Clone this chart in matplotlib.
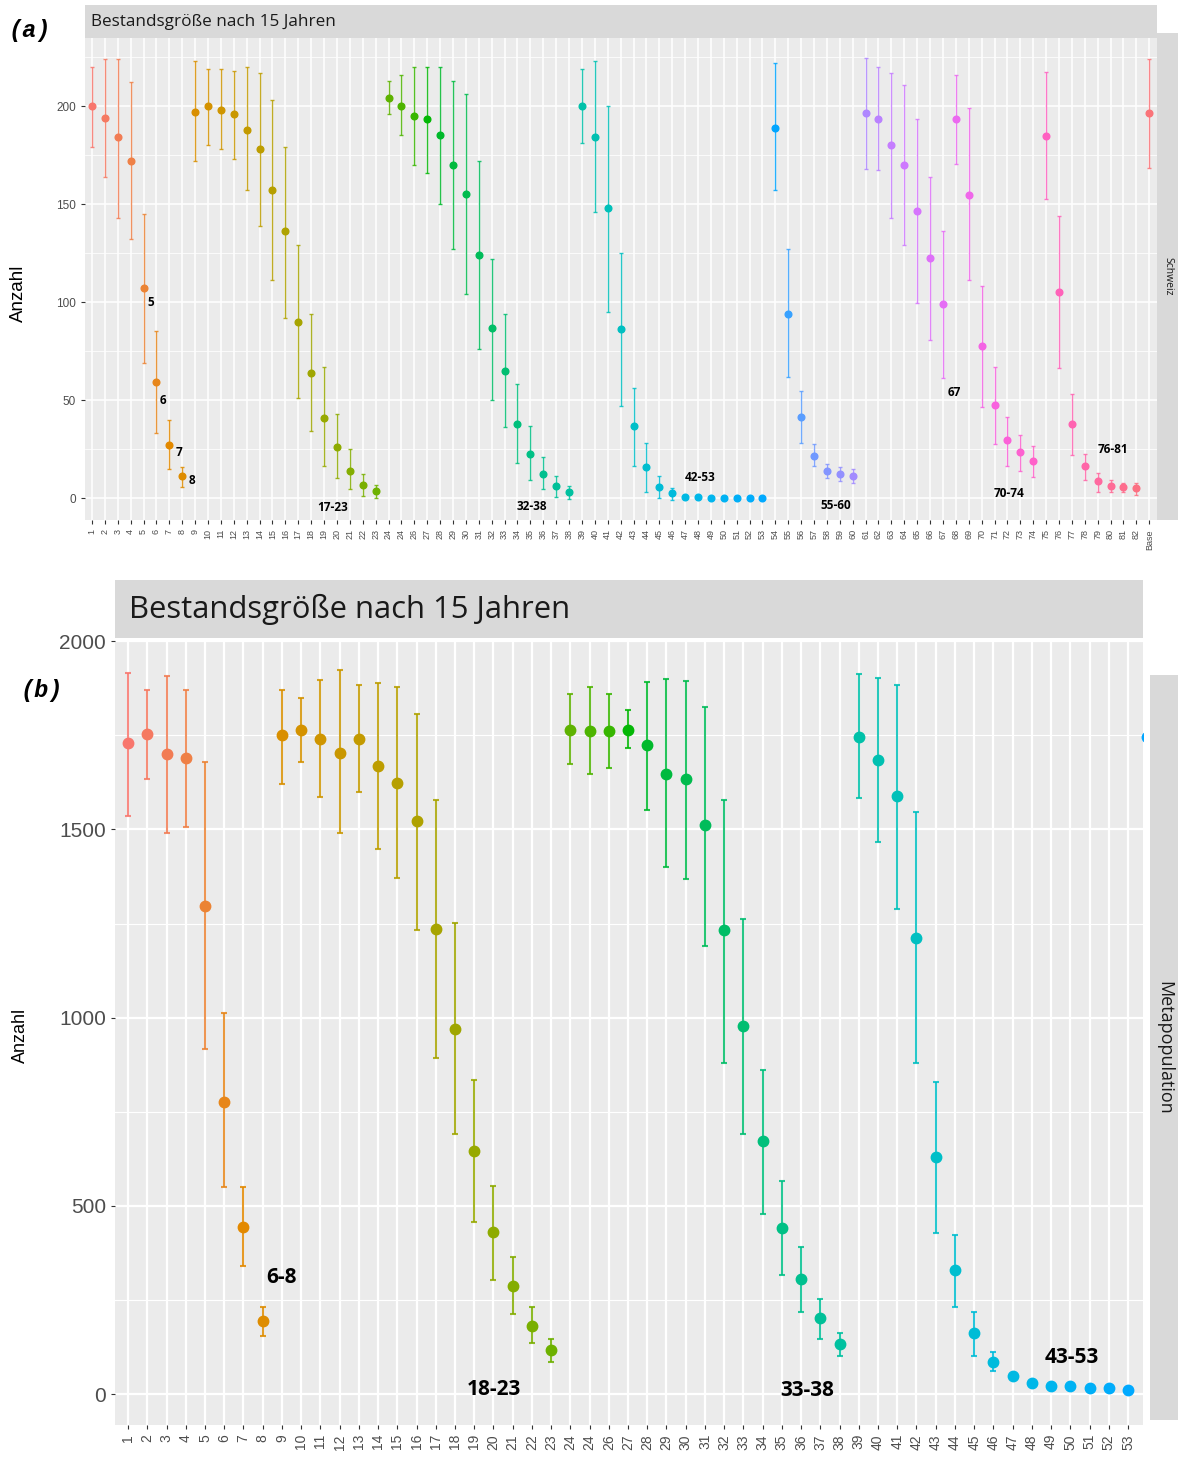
import matplotlib
matplotlib.use("Agg")
import matplotlib.pyplot as plt
import numpy as np

W, H = 1178, 1466

# ---- panel (a): Schweiz ----
a_labels = [str(i) for i in range(1, 25)] + ["24"] + [str(i) for i in range(26, 83)] + ["Base"]
a_mean = [200, 194, 184, 172, 107, 59, 27, 11,
          197, 200, 198, 196, 188, 178, 157, 136,
          90, 64, 41, 26, 14, 6.5, 3.5,
          204, 200, 195, 193.5, 185, 170, 155, 124, 86.5, 65, 37.6, 22.7, 12.5, 6, 3,
          200, 184, 148, 86, 37, 15.6, 5.5, 2.4,
          0.5, 0.5, 0.1, 0.1, 0.1, 0.1, 0.1,
          189, 94, 41.4, 21.6, 13.8, 12.5, 11.4,
          196.4, 193.3, 180, 170, 146.4, 122.6, 99,
          193.3, 154.8, 77.6, 47.4, 29.4, 23.4, 18.7,
          184.7, 105, 37.6, 16.3, 8.5, 6, 5.5, 4.9,
          196.4]
a_lo = [179, 164, 143, 132, 69, 33, 15, 5.5,
        172, 180, 178, 173, 157, 139, 111, 92,
        51, 34, 16.5, 10, 4.5, 1, 0,
        196, 185, 170, 166, 150, 127, 104, 76, 50, 36.5, 18, 9, 4.7, 0.5, -0.7,
        181, 146, 95, 47, 16.5, 3, 0, -1,
        0.5, 0.5, 0.1, 0.1, 0.1, 0.1, 0.1,
        157, 62, 28, 16.3, 10.2, 8.7, 7.8,
        167.7, 167.5, 142.8, 129, 99.5, 80.5, 61.4,
        170.4, 111, 46.5, 27.4, 16.5, 13.6, 10.9,
        152.6, 66.3, 22.2, 9.1, 3.3, 3.3, 2.9, 1.5,
        168.4]
a_hi = [220, 224, 224, 212, 145, 85, 40, 16,
        223, 219, 219, 218, 220, 217, 203, 179,
        129, 94, 67, 43, 25, 12.5, 6.5,
        213, 216, 220, 220, 220, 213, 206, 172, 122, 94, 58, 36.7, 21, 11.4, 6,
        219, 223, 200, 125, 56, 28, 11, 5,
        0.5, 0.5, 0.1, 0.1, 0.1, 0.1, 0.1,
        222, 127, 54.7, 27.4, 17.4, 16, 14.7,
        224.5, 219.8, 216.7, 210.7, 193.3, 163.9, 136.2,
        216, 199, 108, 66.8, 41.4, 32.3, 26.3,
        217.3, 144, 52.9, 22.7, 12.9, 9.1, 7.8, 7.8,
        224]
a_notes = ["5", "6", "7", "8", "17-23", "32-38", "42-53", "55-60", "67", "70-74", "76-81"]
a_note_x = [5.55, 6.5, 7.75, 8.75, 19.7, 35.1, 48.2, 58.7, 67.9, 72.1, 80.2]
a_note_y = [100, 50, 23, 9, -4.8, -4.5, 10.5, -3.6, 54, 2.4, 25]

# ---- panel (b): Metapopulation ----
b_labels = [str(i) for i in range(1, 25)] + ["24"] + [str(i) for i in range(26, 55)]
b_mean = [1730, 1754, 1700, 1689, 1297, 777, 443, 193,
          1750, 1765, 1741, 1704, 1741, 1669, 1622, 1522,
          1235, 971, 645, 431, 288, 182, 117,
          1765, 1760, 1760, 1765, 1725, 1648, 1633, 1511, 1232, 977, 672, 442, 305, 203, 132,
          1745, 1683, 1589, 1211, 631, 331, 162, 85,
          47, 30, 21, 21, 15, 15, 11,
          1745]
b_lo = [1535, 1633, 1490, 1505, 917, 551, 341, 155,
        1621, 1678, 1586, 1490, 1598, 1449, 1372, 1232,
        894, 690, 458, 303, 212, 137, 86,
        1674, 1646, 1662, 1715, 1551, 1399, 1369, 1190, 880, 690, 478, 316, 219, 147, 102,
        1583, 1466, 1288, 879, 429, 232, 102, 61,
        47, 30, 21, 21, 15, 15, 11,
        1580]
b_hi = [1916, 1871, 1907, 1871, 1680, 1012, 549, 232,
        1871, 1848, 1898, 1923, 1883, 1888, 1877, 1807,
        1577, 1252, 835, 554, 364, 232, 147,
        1859, 1877, 1859, 1816, 1892, 1900, 1894, 1825, 1577, 1261, 860, 565, 392, 253, 162,
        1914, 1903, 1883, 1545, 830, 422, 217, 112,
        47, 30, 21, 21, 15, 15, 11,
        1910]
b_notes = ["6-8", "18-23", "33-38", "43-53"]
b_note_x = [9.0, 20.05, 36.3, 50.1]
b_note_y = [311, 12, 10, 96]


def hcl(h, c=100, l=65):
    # polar LUV -> sRGB, like R's hcl()
    xn, yn, zn = 95.047, 100.0, 108.883
    un = 4 * xn / (xn + 15 * yn + 3 * zn)
    vn = 9 * yn / (xn + 15 * yn + 3 * zn)
    u = c * np.cos(np.radians(h))
    v = c * np.sin(np.radians(h))
    y = yn * ((l + 16) / 116) ** 3
    up = u / (13 * l) + un
    vp = v / (13 * l) + vn
    x = 9 * y * up / (4 * vp)
    z = -x / 3 - 5 * y + 3 * y / vp
    xyz = np.array([x, y, z]) / 100
    m = np.array([[3.2404542, -1.5371385, -0.4985314],
                  [-0.9692660, 1.8760108, 0.0415560],
                  [0.0556434, -0.2040259, 1.0572252]])
    rgb = m @ xyz
    rgb = np.where(rgb <= 0.0031308, 12.92 * rgb, 1.055 * np.abs(rgb) ** (1 / 2.4) - 0.055)
    return tuple(np.clip(rgb, 0, 1))


n_col = len(a_mean)
palette = [hcl(15 + 360 * i / n_col) for i in range(n_col)]


def box(x0, y0, x1, y1):
    return [x0 / W, 1 - y1 / H, (x1 - x0) / W, (y1 - y0) / H]


def strip(fig, rect, text, size, rot=0, x=0.5, ha="center"):
    s = fig.add_axes(box(*rect))
    s.set_facecolor("#D9D9D9")
    s.set_xticks([])
    s.set_yticks([])
    for sp in s.spines.values():
        sp.set_visible(False)
    s.text(x, 0.5, text, transform=s.transAxes, rotation=rot, ha=ha, va="center",
           fontsize=size, color="#1A1A1A", family=["Open Sans", "DejaVu Sans"])
    return s


def panel(fig, rect, mean, lo, hi, labels, xlim, ylim, yticks, yminor,
          ms, elw, cap, ytick_size, xtick_size, grid_lw):
    ax = fig.add_axes(box(*rect))
    ax.set_facecolor("#EBEBEB")
    x = np.arange(1, len(mean) + 1)
    for i in range(len(mean)):
        c = palette[i]
        if hi[i] > lo[i]:
            ax.errorbar(x[i], mean[i], yerr=[[mean[i] - lo[i]], [hi[i] - mean[i]]],
                        fmt="none", ecolor=c, elinewidth=elw, capsize=cap,
                        capthick=elw, alpha=0.85, zorder=3)
        ax.plot(x[i], mean[i], "o", color=c, markersize=ms, zorder=4)
    ax.set_xticks(x)
    ax.set_xticklabels(labels, rotation=90, fontsize=xtick_size, color="#4D4D4D",
                       family="Liberation Sans")
    ax.set_yticks(yticks)
    ax.set_yticklabels([str(t) for t in yticks], fontsize=ytick_size, color="#4D4D4D",
                       family="Liberation Sans")
    ax.set_yticks(yminor, minor=True)
    ax.set_xlim(*xlim)
    ax.set_ylim(*ylim)
    ax.tick_params(which="minor", length=0)
    ax.tick_params(which="major", color="#333333", length=3)
    ax.grid(which="major", color="white", lw=grid_lw)
    ax.grid(which="minor", axis="y", color="white", lw=grid_lw * 0.5)
    ax.set_axisbelow(True)
    for sp in ax.spines.values():
        sp.set_visible(False)
    return ax


fig = plt.figure(figsize=(W / 100, H / 100), dpi=100)

# (a)
ax_a = panel(fig, (85, 38, 1157, 520), a_mean, a_lo, a_hi, a_labels,
             (0.46, len(a_mean) + 0.6), (-11.2, 234.7),
             [0, 50, 100, 150, 200], [25, 75, 125, 175, 225],
             ms=4.8, elw=1.0, cap=1.5, ytick_size=8.5, xtick_size=6.5, grid_lw=1.1)
for t, xx, yy in zip(a_notes, a_note_x, a_note_y):
    ax_a.text(xx, yy, t, ha="center", va="center", fontsize=8.5, weight="bold",
              family=["Open Sans", "DejaVu Sans"], zorder=5)
strip(fig, (85, 5, 1157, 38), "Bestandsgröße nach 15 Jahren", 12.3, x=0.006, ha="left")
strip(fig, (1157, 33, 1178, 520), "Schweiz", 7.5, rot=-90)
fig.text(18 / W, 1 - 293 / H, "Anzahl", rotation=90, ha="center", va="center",
         fontsize=13.5, family="Liberation Sans")
fig.text(8 / W, 1 - 30 / H, "(a)", ha="left", va="center", fontsize=17, weight="bold",
         style="italic", family="Liberation Mono")

# (b)
ax_b = panel(fig, (115, 640, 1143, 1425), b_mean, b_lo, b_hi, b_labels,
             (0.32, 53.78), (-82, 2003),
             [0, 500, 1000, 1500, 2000], [250, 750, 1250, 1750],
             ms=7.5, elw=1.5, cap=2.5, ytick_size=15, xtick_size=10, grid_lw=1.6)
for t, xx, yy in zip(b_notes, b_note_x, b_note_y):
    ax_b.text(xx, yy, t, ha="center", va="center", fontsize=15, weight="bold",
              family=["Open Sans", "DejaVu Sans"], zorder=5)
strip(fig, (115, 580, 1143, 638), "Bestandsgröße nach 15 Jahren", 22.3, x=0.014, ha="left")
strip(fig, (1150, 675, 1178, 1420), "Metapopulation", 13, rot=-90)
fig.text(20 / W, 1 - 1035 / H, "Anzahl", rotation=90, ha="center", va="center",
         fontsize=13, family="Liberation Sans")
fig.text(20 / W, 1 - 690 / H, "(b)", ha="left", va="center", fontsize=17, weight="bold",
         style="italic", family="Liberation Mono")

fig.savefig("out.png", dpi=100)
